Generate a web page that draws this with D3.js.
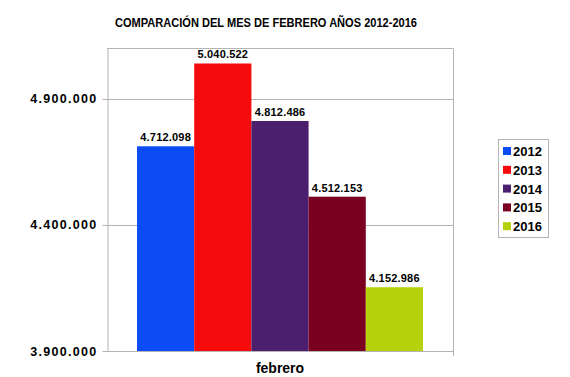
<!DOCTYPE html>
<html>
<head>
<meta charset="utf-8">
<script src="https://cdn.jsdelivr.net/npm/d3@7"></script>
<style>
  body { margin: 0; background: #fff; }
  svg { display: block; font-family: "Liberation Sans", Arial, sans-serif; }
</style>
</head>
<body>
<div id="chart"></div>
<script>
var years = ["2012", "2013", "2014", "2015", "2016"]
var values = [4712098, 5040522, 4812486, 4512153, 4152986]
var colors = ["#0b4cf5", "#f50b0b", "#4c1f6e", "#7b0120", "#b5d20d"]
var category = "febrero"
var yTicks = [3900000, 4400000, 4900000]

var width = 570, height = 377
var margin = {top: 48, right: 117, bottom: 26, left: 107}

var svg = d3.select("#chart")
  .append("svg")
    .attr("width", width)
    .attr("height", height)

// number format with dots as thousands separator
var fmt = d3.formatLocale({decimal: ",", thousands: ".", grouping: [3], currency: ["", ""]}).format(",d")

var x = d3.scaleBand()
  .domain([category])
  .range([margin.left, width - margin.right])
  .paddingInner(0)
  .paddingOuter(0.105)

var xs = d3.scaleBand()
  .domain(years)
  .range([0, x.bandwidth()])

var y = d3.scaleLinear()
  .domain([3900000, 5102000])
  .range([height - margin.bottom, margin.top])

// plot frame + grid
svg.append("g")
  .selectAll("line")
  .data(yTicks.slice(1))
  .enter()
  .append("line")
    .attr("x1", margin.left)
    .attr("x2", width - margin.right)
    .attr("y1", d => Math.round(y(d)) + 0.5)
    .attr("y2", d => Math.round(y(d)) + 0.5)
    .attr("stroke", "#b4b4b4")

svg.append("path")
  .attr("d", "M" + margin.left + "," + (margin.top + 0.5) + "H" + (width - margin.right + 0.5) + "V" + (height - margin.bottom))
  .attr("fill", "none")
  .attr("stroke", "#b4b4b4")

// bars
svg.append("g")
  .selectAll("rect")
  .data(years)
  .enter()
  .append("rect")
    .attr("x", (d, i) => x(category) + xs(d))
    .attr("y", (d, i) => y(values[i]))
    .attr("width", xs.bandwidth())
    .attr("height", (d, i) => y(3900000) - y(values[i]))
    .attr("fill", (d, i) => colors[i])

// value labels
svg.append("g")
  .selectAll("text")
  .data(years)
  .enter()
  .append("text")
    .attr("x", d => x(category) + xs(d) + xs.bandwidth() / 2)
    .attr("y", (d, i) => y(values[i]) - 5)
    .attr("text-anchor", "middle")
    .style("font-size", "11px")
    .style("font-weight", "bold")
    .style("letter-spacing", "0.2px")
    .text((d, i) => fmt(values[i]))

// y axis
var yAxis = svg.append("g")
  .attr("transform", "translate(" + (margin.left + 0.5) + ",0)")
  .call(d3.axisLeft(y).tickValues(yTicks).tickFormat(fmt).tickSize(5).tickSizeOuter(0))
yAxis.select(".domain").attr("stroke", "#b4b4b4")
yAxis.selectAll(".tick line").attr("stroke", "#b4b4b4")
yAxis.selectAll("text")
  .attr("x", -10)
  .style("font-size", "12.5px")
  .style("font-weight", "bold")
  .style("letter-spacing", "1.3px")
  .style("font-family", "'Liberation Sans', Arial, sans-serif")
  .attr("fill", "#000")

// x axis
svg.append("line")
  .attr("x1", margin.left)
  .attr("x2", width - margin.right + 0.5)
  .attr("y1", height - margin.bottom + 0.5)
  .attr("y2", height - margin.bottom + 0.5)
  .attr("stroke", "#b4b4b4")
svg.append("line")
  .attr("x1", width - margin.right + 0.5)
  .attr("x2", width - margin.right + 0.5)
  .attr("y1", height - margin.bottom)
  .attr("y2", height - margin.bottom + 5)
  .attr("stroke", "#b4b4b4")

svg.append("text")
  .attr("x", x(category) + x.bandwidth() / 2)
  .attr("y", 373)
  .attr("text-anchor", "middle")
  .style("font-size", "14px")
  .style("font-weight", "bold")
  .text(category)

// title
svg.append("text")
  .attr("x", 266)
  .attr("y", 27)
  .attr("text-anchor", "middle")
  .attr("textLength", 302)
  .attr("lengthAdjust", "spacingAndGlyphs")
  .style("font-family", "'Liberation Sans Narrow', 'Arial Narrow', 'Liberation Sans', sans-serif")
  .style("font-size", "13px")
  .style("font-weight", "bold")
  .text("COMPARACIÓN DEL MES DE FEBRERO AÑOS 2012-2016")

// legend
var legend = svg.append("g").attr("transform", "translate(498,139)")
legend.append("rect")
  .attr("x", 0.5)
  .attr("y", 0.5)
  .attr("width", 50)
  .attr("height", 98)
  .attr("fill", "#fff")
  .attr("stroke", "#b4b4b4")

var item = legend.selectAll("g")
  .data(years)
  .enter()
  .append("g")
    .attr("transform", (d, i) => "translate(0," + (12 + i * 18.8) + ")")
item.append("rect")
  .attr("x", 5)
  .attr("y", -4)
  .attr("width", 8)
  .attr("height", 8)
  .attr("fill", (d, i) => colors[i])
item.append("text")
  .attr("x", 15)
  .attr("y", 5)
  .style("font-size", "13px")
  .style("font-weight", "bold")
  .text(d => d)
</script>
</body>
</html>
